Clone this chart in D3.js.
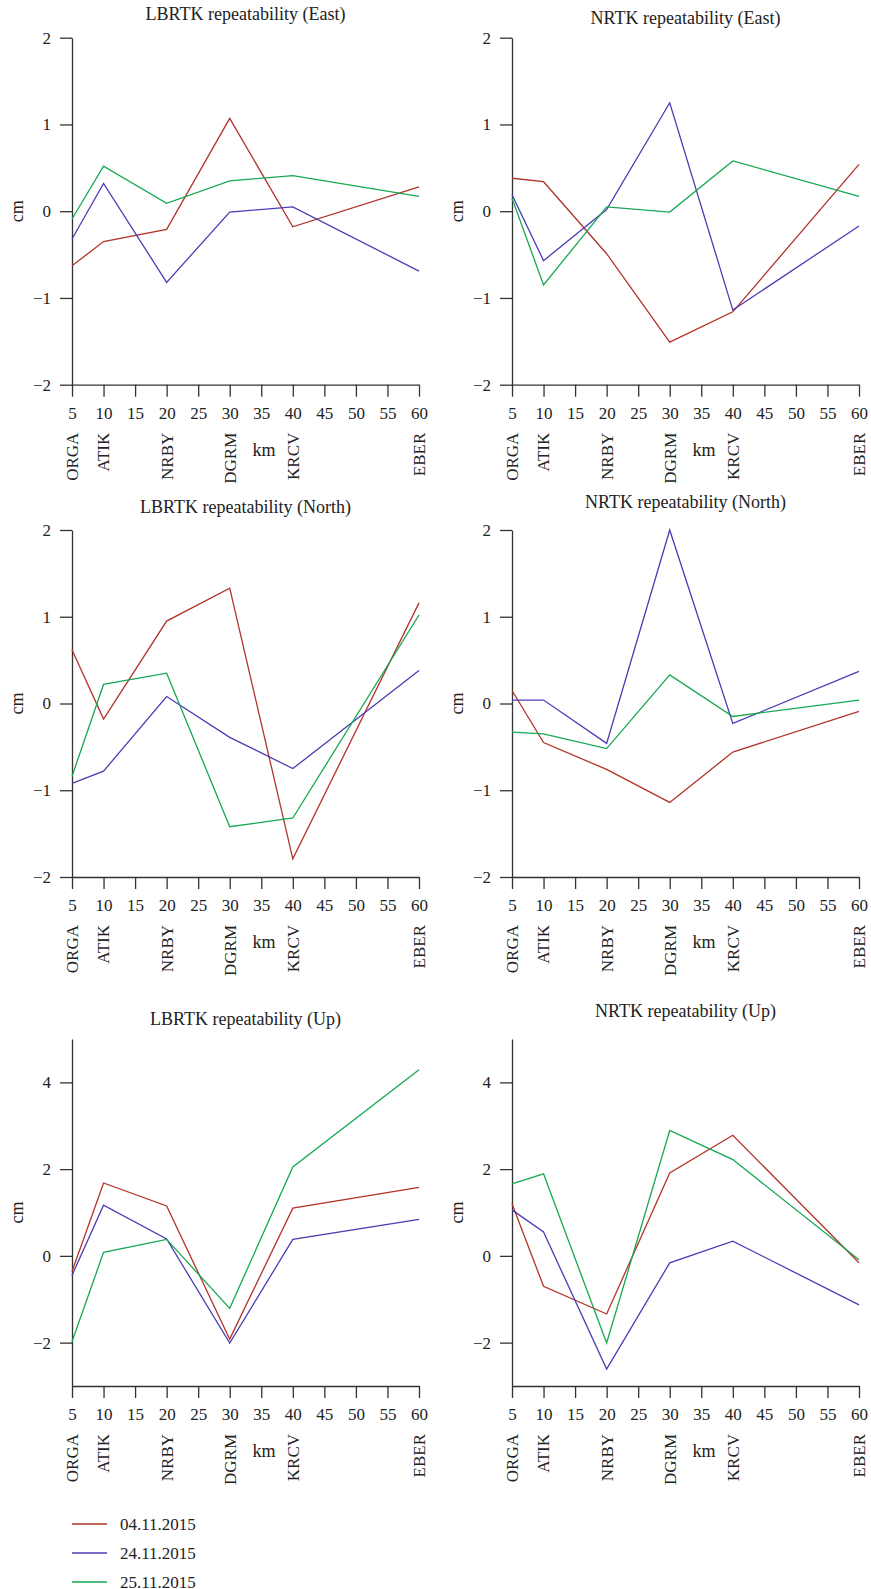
<head>
  <meta charset="utf-8">
  <title>LBRTK / NRTK repeatability</title>
</head>
<body>
  <script src="https://d3js.org/d3.v7.min.js"></script>
  <style>
    body { margin: 0; background: #fff; }
    text { font-family: "Liberation Serif", "Times New Roman", serif; fill: #222; }
    .axis path, .axis line { stroke: #333; stroke-width: 1.3px; }
    .axis text { font-size: 17px; fill: #222; font-family: "Liberation Serif", serif; }
    .series { fill: none; stroke-width: 1.3px; }
  </style>
  <script>
    // stations along the baseline and their distance (km)
    const stations = ["ORGA", "ATIK", "NRBY", "DGRM", "KRCV", "EBER"];
    const stationKm = [5, 10, 20, 30, 40, 60];
    const dates = ["04.11.2015", "24.11.2015", "25.11.2015"];
    const colors = ["#b2332a", "#4b3cb4", "#16a852"];

    const xTicks = [5, 10, 15, 20, 25, 30, 35, 40, 45, 50, 55, 60];
    const yTicksHoriz = [-2, -1, 0, 1, 2];
    const yTicksUp = [-2, 0, 2, 4];

    // values (cm)
    const lbrtkEast04 = [-0.63, -0.35, -0.21, 1.07, -0.18, 0.28];
    const lbrtkEast24 = [-0.32, 0.32, -0.82, -0.01, 0.05, -0.69];
    const lbrtkEast25 = [-0.09, 0.52, 0.09, 0.35, 0.41, 0.17];
    const nrtkEast04 = [0.38, 0.34, -0.49, -1.51, -1.16, 0.54];
    const nrtkEast24 = [0.19, -0.57, 0.02, 1.25, -1.14, -0.17];
    const nrtkEast25 = [0.15, -0.85, 0.05, -0.01, 0.58, 0.17];
    const lbrtkNorth04 = [0.62, -0.18, 0.95, 1.33, -1.79, 1.16];
    const lbrtkNorth24 = [-0.92, -0.78, 0.08, -0.39, -0.75, 0.38];
    const lbrtkNorth25 = [-0.84, 0.22, 0.35, -1.42, -1.32, 1.02];
    const nrtkNorth04 = [0.15, -0.45, -0.76, -1.14, -0.56, -0.09];
    const nrtkNorth24 = [0.04, 0.04, -0.46, 2.0, -0.23, 0.37];
    const nrtkNorth25 = [-0.33, -0.35, -0.52, 0.33, -0.15, 0.04];
    const lbrtkUp04 = [-0.36, 1.68, 1.15, -1.92, 1.1, 1.58];
    const lbrtkUp24 = [-0.45, 1.17, 0.39, -2.01, 0.38, 0.84];
    const lbrtkUp25 = [-1.98, 0.08, 0.38, -1.21, 2.05, 4.29];
    const nrtkUp04 = [1.2, -0.7, -1.34, 1.91, 2.78, -0.16];
    const nrtkUp24 = [1.06, 0.55, -2.61, -0.16, 0.34, -1.13];
    const nrtkUp25 = [1.66, 1.89, -2.01, 2.89, 2.22, -0.09];

    const W = 871, H = 1589;
    const plotW = 347, plotH = 347;

    // panel layout
    const panels = [
      {title: "LBRTK repeatability (East)", left: 72, top: 37.7, titleY: 14, yDomain: [-2, 2], ticks: yTicksHoriz, series: [lbrtkEast04, lbrtkEast24, lbrtkEast25]},
      {title: "NRTK repeatability (East)", left: 512, top: 37.7, titleY: 18, yDomain: [-2, 2], ticks: yTicksHoriz, series: [nrtkEast04, nrtkEast24, nrtkEast25]},
      {title: "LBRTK repeatability (North)", left: 72, top: 530, titleY: 507, yDomain: [-2, 2], ticks: yTicksHoriz, series: [lbrtkNorth04, lbrtkNorth24, lbrtkNorth25]},
      {title: "NRTK repeatability (North)", left: 512, top: 530, titleY: 502, yDomain: [-2, 2], ticks: yTicksHoriz, series: [nrtkNorth04, nrtkNorth24, nrtkNorth25]},
      {title: "LBRTK repeatability (Up)", left: 72, top: 1039, titleY: 1019, yDomain: [-3, 5], ticks: yTicksUp, series: [lbrtkUp04, lbrtkUp24, lbrtkUp25]},
      {title: "NRTK repeatability (Up)", left: 512, top: 1039, titleY: 1011, yDomain: [-3, 5], ticks: yTicksUp, series: [nrtkUp04, nrtkUp24, nrtkUp25]}
    ];

    const svg = d3.select("body").append("svg")
      .attr("width", W)
      .attr("height", H);

    svg.append("rect").attr("width", W).attr("height", H).attr("fill", "#fff");

    const x = d3.scaleLinear().domain([5, 60]).range([0, plotW]);
    const fmt = d3.format("d");

    panels.forEach(p => {
      const g = svg.append("g")
        .attr("transform", "translate(" + p.left + "," + p.top + ")");

      const y = d3.scaleLinear().domain(p.yDomain).range([plotH, 0]);

      g.append("text")
        .attr("x", plotW / 2)
        .attr("y", p.titleY - p.top)
        .attr("dy", "0.35em")
        .attr("text-anchor", "middle")
        .style("font-size", "18px")
        .text(p.title);

      g.append("g").attr("class", "axis")
        .call(d3.axisLeft(y).tickValues(p.ticks).tickFormat(fmt)
          .tickSize(12).tickSizeOuter(0).tickPadding(9));

      g.append("g").attr("class", "axis")
        .attr("transform", "translate(0," + plotH + ")")
        .call(d3.axisBottom(x).tickValues(xTicks).tickFormat(fmt)
          .tickSize(12).tickSizeOuter(0).tickPadding(10));

      // station names, rotated
      g.selectAll(".station")
        .data(stations)
        .enter().append("text")
        .attr("class", "station")
        .attr("transform", (d, i) => "translate(" + x(stationKm[i]) + "," + (plotH + 48) + ") rotate(-90)")
        .attr("dy", "0.35em")
        .attr("text-anchor", "end")
        .style("font-size", "17px")
        .text(d => d);

      g.append("text")
        .attr("x", 192)
        .attr("y", plotH + 65)
        .attr("dy", "0.35em")
        .attr("text-anchor", "middle")
        .style("font-size", "18px")
        .text("km");

      g.append("text")
        .attr("transform", "translate(-55," + (plotH / 2) + ") rotate(-90)")
        .attr("dy", "0.35em")
        .attr("text-anchor", "middle")
        .style("font-size", "18px")
        .text("cm");

      const line = d3.line()
        .x((d, i) => x(stationKm[i]))
        .y(d => y(d));

      p.series.forEach((s, k) => {
        g.append("path")
          .attr("class", "series")
          .attr("d", line(s))
          .attr("stroke", colors[k]);
      });
    });

    // legend
    const legendY = [1524, 1553, 1582];
    const legend = svg.append("g");
    dates.forEach((d, k) => {
      legend.append("line")
        .attr("x1", 72).attr("x2", 107)
        .attr("y1", legendY[k]).attr("y2", legendY[k])
        .attr("stroke", colors[k])
        .attr("stroke-width", 1.3);
      legend.append("text")
        .attr("x", 120)
        .attr("y", legendY[k])
        .attr("dy", "0.35em")
        .style("font-size", "17px")
        .text(d);
    });
  </script>
</body>
